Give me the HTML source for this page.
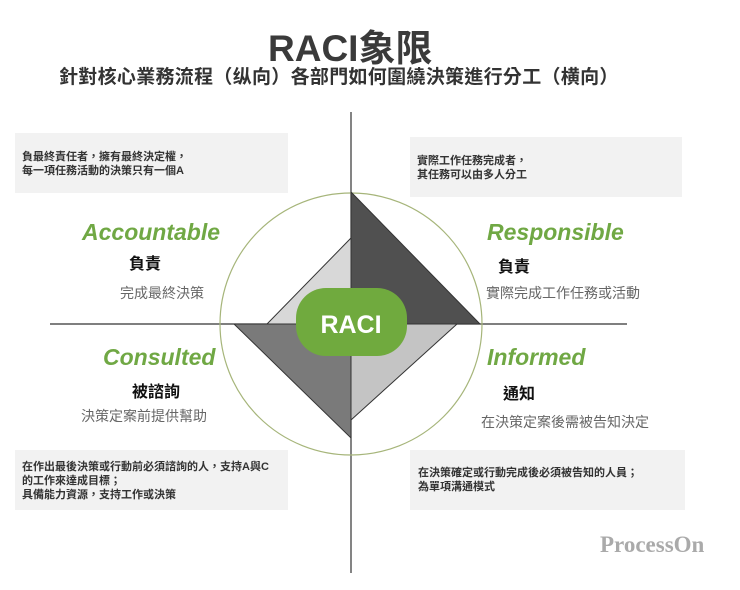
<!DOCTYPE html>
<html><head><meta charset="utf-8"><style>
body{margin:0;width:740px;height:590px;background:#fff;overflow:hidden;position:relative;font-family:"Liberation Sans","Noto Sans CJK TC",sans-serif}
.a{position:absolute;white-space:nowrap}
.box{position:absolute;background:#f2f2f2}
.bt{position:absolute;font-size:11px;font-weight:bold;color:#333;line-height:14px;white-space:nowrap}
.g{color:#70a844;font-style:italic;font-weight:bold;font-size:23px}
.k{color:#111;font-weight:bold;font-size:16px}
.s{color:#666;font-size:14px}
</style></head><body>
<div class="a" style="left:268px;top:18px;font-size:37px;font-weight:bold;color:#3a3a3a">RACI象限</div>
<div class="a" style="left:59px;top:62px;font-size:19px;font-weight:bold;color:#333;letter-spacing:0.3px">針對核心業務流程（纵向）各部門如何圍繞決策進行分工（横向）</div>

<div class="box" style="left:15px;top:133px;width:273px;height:60px"></div>
<div class="bt" style="left:22px;top:150px">負最終責任者，擁有最終決定權，<br>每一項任務活動的決策只有一個A</div>
<div class="box" style="left:410px;top:137px;width:272px;height:60px"></div>
<div class="bt" style="left:417px;top:154px">實際工作任務完成者，<br>其任務可以由多人分工</div>
<div class="box" style="left:15px;top:450px;width:273px;height:60px"></div>
<div class="bt" style="left:22px;top:460px">在作出最後決策或行動前必須諮詢的人，支持A與C<br>的工作來達成目標；<br>具備能力資源，支持工作或決策</div>
<div class="box" style="left:410px;top:450px;width:275px;height:60px"></div>
<div class="bt" style="left:418px;top:466px">在決策確定或行動完成後必須被告知的人員；<br>為單項溝通模式</div>

<svg class="a" style="left:0;top:0" width="740" height="590">
<line x1="351" y1="112" x2="351" y2="573" stroke="#333" stroke-width="1.2"/>
<line x1="50" y1="324" x2="627" y2="324" stroke="#333" stroke-width="1.2"/>
<circle cx="351" cy="324" r="131" fill="none" stroke="#a6b57a" stroke-width="1.2"/>
<polygon points="351,192 351,324 480,324" fill="#505050" stroke="#333"/>
<polygon points="351,238 351,324 267,324" fill="#d8d8d8" stroke="#333"/>
<polygon points="234,324 351,324 351,438" fill="#7a7a7a" stroke="#333"/>
<polygon points="351,324 457,324 351,420" fill="#c4c4c4" stroke="#333"/>
<rect x="296" y="288" width="111" height="68" rx="30" fill="#70aa3e"/>
<text x="351" y="333" text-anchor="middle" font-family="Liberation Sans,sans-serif" font-weight="bold" font-size="25" fill="#fff">RACI</text>
</svg>

<div class="a g" style="left:82px;top:219px">Accountable</div>
<div class="a k" style="left:129px;top:250px">負責</div>
<div class="a s" style="left:120px;top:283px">完成最終決策</div>
<div class="a g" style="left:487px;top:219px">Responsible</div>
<div class="a k" style="left:498px;top:253px">負責</div>
<div class="a s" style="left:486px;top:283px">實際完成工作任務或活動</div>
<div class="a g" style="left:103px;top:344px">Consulted</div>
<div class="a k" style="left:132px;top:378px">被諮詢</div>
<div class="a s" style="left:81px;top:406px">決策定案前提供幫助</div>
<div class="a g" style="left:487px;top:344px">Informed</div>
<div class="a k" style="left:503px;top:380px">通知</div>
<div class="a s" style="left:481px;top:412px">在決策定案後需被告知決定</div>
<div class="a" style="left:600px;top:532px;font-family:'Liberation Serif',serif;font-weight:bold;font-size:23px;color:#aaa">ProcessOn</div>
</body></html>
